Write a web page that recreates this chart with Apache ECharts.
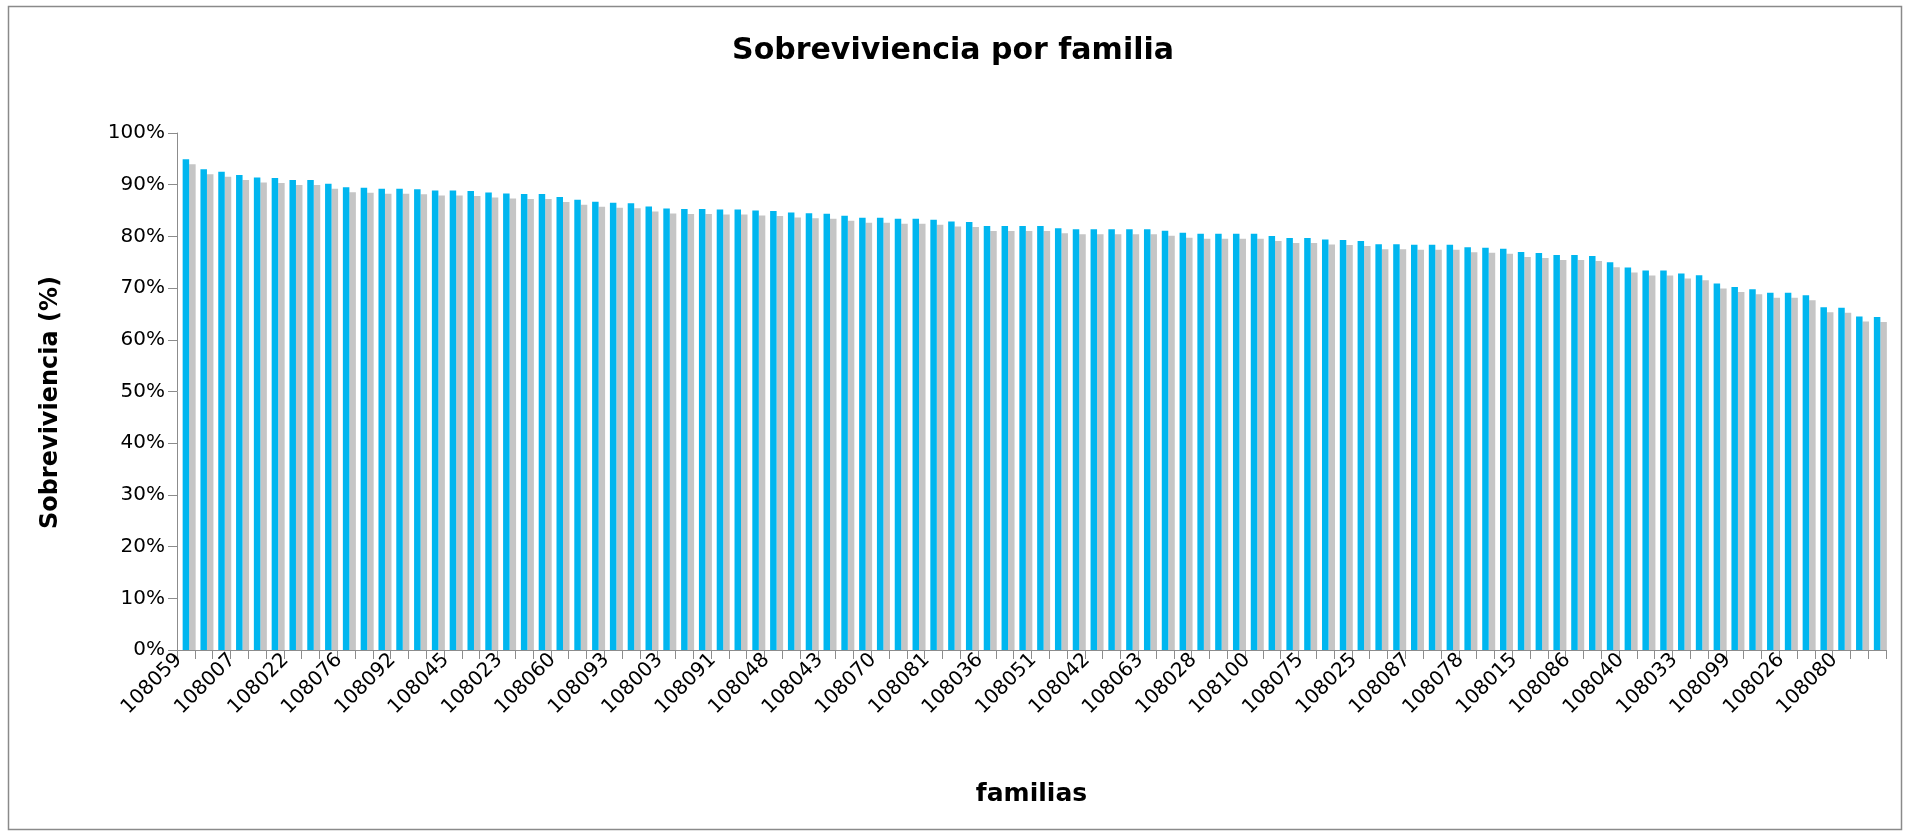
<!DOCTYPE html>
<html>
<head>
<meta charset="utf-8">
<title>Sobreviviencia por familia</title>
<script src="https://cdn.jsdelivr.net/npm/echarts@6/dist/echarts.min.js"></script>
<style>
  html, body { margin: 0; padding: 0; background: #fff; }
  #chart { width: 1906px; height: 833px; }
</style>
</head>
<body>
<div id="chart"></div>
<script>
// labels shown on the axis (every third family)
var shownFamilies = ['108059', '108007', '108022', '108076', '108092', '108045', '108023', '108060',
  '108093', '108003', '108091', '108048', '108043', '108070', '108081', '108036', '108051', '108042',
  '108063', '108028', '108100', '108075', '108025', '108087', '108078', '108015', '108086', '108040',
  '108033', '108099', '108026', '108080'];

// survival per family (%), sorted descending
var survival = [94.9, 93.0, 92.5, 91.9, 91.4, 91.3, 90.9, 90.9, 90.2, 89.5,
  89.4, 89.2, 89.2, 89.1, 88.9, 88.9, 88.8, 88.5, 88.3, 88.2,
  88.2, 87.6, 87.1, 86.7, 86.5, 86.4, 85.8, 85.4, 85.3, 85.3,
  85.2, 85.2, 85.0, 84.9, 84.6, 84.5, 84.4, 84.0, 83.6, 83.6,
  83.4, 83.4, 83.2, 82.9, 82.8, 82.0, 82.0, 82.0, 82.0, 81.6,
  81.4, 81.4, 81.4, 81.4, 81.4, 81.1, 80.7, 80.5, 80.5, 80.5,
  80.5, 80.1, 79.7, 79.7, 79.4, 79.3, 79.1, 78.5, 78.5, 78.4,
  78.4, 78.4, 77.9, 77.8, 77.6, 77.0, 76.8, 76.4, 76.4, 76.2,
  75.0, 74.0, 73.4, 73.4, 72.8, 72.5, 70.9, 70.2, 69.8, 69.1,
  69.1, 68.6, 66.3, 66.2, 64.5, 64.4];

var yTicks = [0, 10, 20, 30, 40, 50, 60, 70, 80, 90, 100];

// family names that are not printed on the axis are unknown, keep them blank
var families = survival.map(function (v, i) {
  return i % 3 === 0 ? shownFamilies[i / 3] : '';
});

var font = 'DejaVu Sans, Verdana, sans-serif';
var myChart = echarts.init(document.getElementById('chart'));

var option = {
  backgroundColor: '#fff',
  animation: false,
  title: {
    text: 'Sobreviviencia por familia',
    left: 'center',
    top: 31,
    textStyle: { fontFamily: font, fontSize: 30, fontWeight: 'bold', color: '#000' }
  },
  grid: { left: 177, right: 20, top: 133, bottom: 183 },
  xAxis: {
    type: 'category',
    data: families,
    z: 20,
    name: 'familias',
    nameLocation: 'middle',
    nameGap: 132,
    nameTextStyle: { fontFamily: font, fontSize: 25, fontWeight: 'bold', color: '#000' },
    axisLine: { lineStyle: { color: '#8c8c8c', width: 1 } },
    axisTick: { show: true, interval: 0, length: 9, lineStyle: { color: '#8c8c8c' } },
    axisLabel: {
      interval: 2, rotate: 45, margin: 14, verticalAlign: 'bottom',
      fontFamily: font, fontSize: 20, color: '#000'
    },
    splitLine: { show: false }
  },
  yAxis: {
    type: 'value',
    min: yTicks[0],
    max: yTicks[yTicks.length - 1],
    interval: 10,
    name: 'Sobreviviencia (%)',
    nameLocation: 'middle',
    nameGap: 114,
    nameTextStyle: {
      fontFamily: font, fontSize: 24, fontWeight: 'bold', color: '#000',
      padding: [0, 22, 0, 0]
    },
    axisLine: { show: true, lineStyle: { color: '#8c8c8c', width: 1 } },
    axisTick: { show: true, length: 9, lineStyle: { color: '#8c8c8c' } },
    axisLabel: { formatter: '{value}%', margin: 12, fontFamily: font, fontSize: 20, color: '#000' },
    splitLine: { show: false }
  },
  graphic: [
    {
      // chart frame
      type: 'rect',
      z: 0,
      shape: { x: 8.5, y: 6.5, width: 1893, height: 823 },
      style: { fill: null, stroke: '#8a8a8a', lineWidth: 1.5 }
    },
    {
      // hide the part of the bar shadow that falls under the category axis
      type: 'rect',
      z: 10,
      shape: { x: 177, y: 651, width: 1712, height: 7 },
      style: { fill: '#fff' }
    }
  ],
  series: [{
    name: 'Sobreviviencia',
    type: 'bar',
    data: survival,
    barWidth: 6.5,
    itemStyle: {
      color: '#00b6ef',
      shadowColor: '#c5c5c5',
      shadowBlur: 0,
      shadowOffsetX: 6.5,
      shadowOffsetY: 5
    }
  }]
};

myChart.setOption(option);
</script>
</body>
</html>
